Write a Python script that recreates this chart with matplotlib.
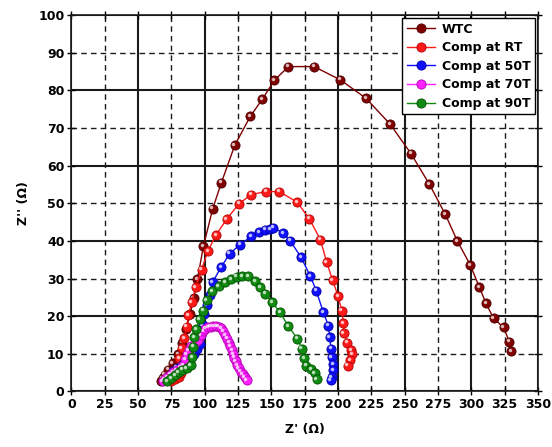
import matplotlib
matplotlib.use("Agg")
import matplotlib.pyplot as plt
from matplotlib.ticker import MultipleLocator, FormatStrFormatter
from matplotlib.transforms import offset_copy

plt.rcParams.update({
    "font.family": "DejaVu Sans", "font.weight": "bold", "font.size": 9,
    "axes.labelweight": "bold",
})

# ---- data -------------------------------------------------------------------
wtc_x = [67.5, 68.5, 70, 72.5, 76, 80, 83, 86, 89, 91.7, 94.5, 99, 106, 112.5,
         122.5, 134.2, 143.3, 152.3, 162.8, 182, 201.6, 220.9, 239.1, 254.7,
         268.6, 280.4, 289.6, 299.2, 305.9, 311, 316.7, 324.2, 328.5, 330]
wtc_y = [2.8, 3.6, 4.5, 5.8, 7.5, 10, 13, 16.5, 20.5, 24.7, 29.8, 38.6, 48.6,
         55.5, 65.4, 73.1, 77.7, 82.7, 86.3, 86.3, 82.8, 77.9, 71, 63.2, 55,
         47.1, 39.9, 33.6, 27.8, 23.4, 19.4, 17, 13.2, 10.8]

rt_x = [75, 78, 81, 82.5, 81.5, 80.9, 82.7, 84.5, 86.5, 87.7, 90.2, 93.2, 97.7,
        102.3, 108.3, 116.5, 125.8, 134.8, 145.8, 155.8, 169.3, 178.4, 186.8,
        191.4, 195.9, 200, 202.8, 204, 204.3, 207, 209.7, 210.7, 209.3, 207.2]
rt_y = [2.8, 3.2, 3.8, 5, 7, 8.8, 11.5, 14.1, 17.2, 20.3, 23.8, 27.8, 32.4,
        37.3, 41.5, 45.8, 49.9, 52.3, 53.1, 53.1, 50.3, 45.9, 40.3, 34.4, 29.6,
        25.3, 21.5, 18.2, 15.5, 13, 11, 9.9, 8.4, 6.9]

t50_x = [70, 72, 74.5, 76.5, 79, 84, 89, 92, 94.5, 96.5, 97.5, 98.5, 99.5,
         101.5, 104, 106, 112.2, 118.7, 126.5, 134.8, 141, 145.3, 149, 151.5,
         158.8, 164, 172.3, 179.3, 183.6, 189, 192.8, 193.7, 194.6, 195.3,
         196.3, 196.3, 195.2, 194.5]
t50_y = [3, 3.5, 4.3, 5.5, 6.3, 7.3, 8.5, 10, 11.2, 12.6, 15, 17.7, 20.5, 23,
         25.5, 29.1, 33, 36.6, 39, 41.2, 42.4, 43, 43.2, 43.5, 42.1, 40.1, 35.6,
         30.6, 26.8, 21, 17.5, 14.5, 11.4, 9.1, 7.2, 5.6, 3.9, 3.1]

t70_x = [68.5, 70, 72, 74, 76.5, 79, 82, 84, 85.5, 86.5, 88, 90, 92.5, 95, 97,
         99, 100.5, 102.5, 104.5, 106.5, 108.5, 110.5, 112.5, 114, 115.5, 117,
         118.2, 119.3, 120.3, 121.3, 122.3, 123.2, 124.3, 125.5, 127, 128.5,
         130, 131.5]
t70_y = [2.8, 3.2, 3.8, 4.5, 5.2, 5.7, 6.3, 7, 8.5, 10, 11, 12, 13, 13.8, 15,
         16, 16.7, 17, 17.2, 17.3, 17.3, 17.2, 16.8, 16, 15, 14, 13, 12, 11, 10,
         9, 8, 7, 6.2, 5.3, 4.6, 3.9, 3.1]

t90_x = [72, 75, 78, 80.5, 83, 86.5, 89.5, 90.5, 91.2, 92, 93.5, 96.2, 99,
         101.5, 105.3, 110.5, 115.2, 119.7, 124, 127.8, 132.7, 137.8, 141.5,
         145.3, 150.3, 156.5, 162.8, 169.5, 172.8, 174.5, 176.2, 180, 182.5,
         184]
t90_y = [2.8, 3.5, 4.3, 5.2, 5.8, 6.2, 7, 9.2, 11.9, 14.5, 16.6, 19.2, 21.5,
         24.3, 26.6, 28, 29.1, 29.8, 30.5, 30.6, 30.6, 29.3, 27.8, 26, 23.8, 21,
         17.3, 14, 11.4, 8.8, 6.9, 6, 4.8, 3.3]

SERIES = [
    (wtc_x, wtc_y, "WTC", "#800000", "#4a0000"),
    (rt_x, rt_y, "Comp at RT", "#ff1a1a", "#b00000"),
    (t50_x, t50_y, "Comp at 50T", "#1010ff", "#0000a0"),
    (t70_x, t70_y, "Comp at 70T", "#ff20ff", "#b000b0"),
    (t90_x, t90_y, "Comp at 90T", "#108a10", "#005000"),
]

fig = plt.figure(figsize=(5.52, 4.47), dpi=100)
ax = fig.add_axes([0.1295, 0.1242, 0.8451, 0.8422])

# small offset white dot gives the glossy sphere look of the original markers
hl = offset_copy(ax.transData, fig=fig, x=-1.3, y=1.3, units="dots")
for x, y, label, color, edge in SERIES:
    ax.plot(x, y, color=color, linewidth=1.0, marker="o", markersize=6.6,
            markerfacecolor=color, markeredgecolor=edge, markeredgewidth=0.6,
            label=label, zorder=3)
    ax.plot(x, y, linestyle="none", marker="o", markersize=1.6,
            color="white", alpha=0.6, transform=hl, zorder=3)

ax.set_xlim(0, 350)
ax.set_ylim(0, 100)
ax.xaxis.set_major_locator(MultipleLocator(50))
ax.xaxis.set_minor_locator(MultipleLocator(25))
ax.yaxis.set_major_locator(MultipleLocator(20))
ax.yaxis.set_minor_locator(MultipleLocator(10))
for axis in (ax.xaxis, ax.yaxis):
    axis.set_major_formatter(FormatStrFormatter("%d"))
    axis.set_minor_formatter(FormatStrFormatter("%d"))

ax.grid(True, which="major", color="#1a1a1a", linewidth=1.5, linestyle="-",
        zorder=0)
ax.grid(True, which="minor", color="#1a1a1a", linewidth=1.0,
        linestyle=(0, (4, 3)), zorder=0)
ax.tick_params(which="both", direction="inout", length=6, width=1.0,
               top=True, right=True, labelsize=9, pad=2)
for s in ax.spines.values():
    s.set_linewidth(1.2)
    s.set_color("#1a1a1a")

ax.set_xlabel("Z' (\u03a9)", fontsize=9, labelpad=8)
ax.set_ylabel("Z'' (\u03a9)", fontsize=9, labelpad=6)

leg = ax.legend(loc="upper right", fontsize=9, frameon=True, fancybox=False,
                edgecolor="black", framealpha=1, handlelength=2.3,
                borderaxespad=0.25, labelspacing=0.45, borderpad=0.35,
                handletextpad=0.5)
leg.get_frame().set_linewidth(1.0)
for t in leg.get_texts():
    t.set_fontweight("bold")

fig.savefig("out.png", dpi=100)
